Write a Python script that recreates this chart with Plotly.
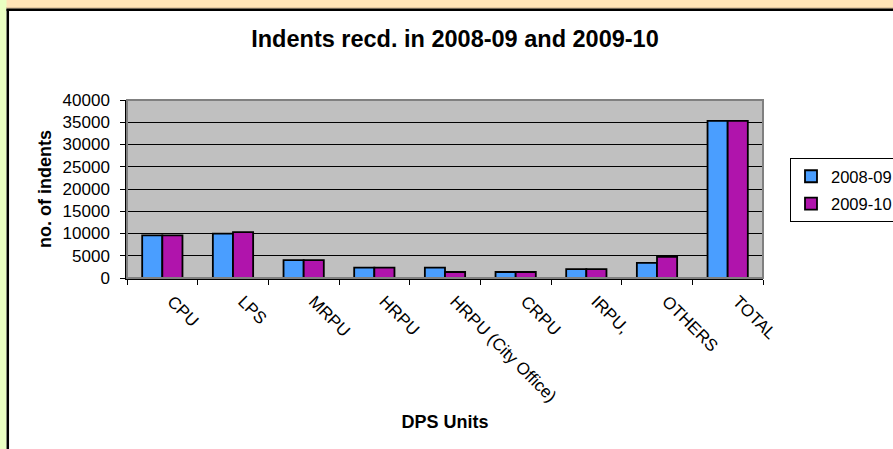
import plotly.graph_objects as go

units = ["CPU", "LPS", "MRPU", "HRPU", "HRPU (City Office)", "CRPU", "IRPU,", "OTHERS", "TOTAL"]
y2008_09 = [9600, 9950, 4000, 2350, 2350, 1350, 2000, 3400, 35300]
y2009_10 = [9600, 10300, 4000, 2350, 1350, 1350, 2000, 4750, 35300]

W, H = 893, 449
L, R, T, B = 127, 763, 100, 278   # plot area in pixels
pw, ph = R - L, B - T

def px(x):
    return (x - L) / pw

def py(y):
    return (B - y) / ph

font = "Liberation Sans, Arial, sans-serif"

fig = go.Figure()
fig.add_trace(go.Bar(x=units, y=y2008_09, name="2008-09", legendgroup="a",
                     marker=dict(color="#4A9EFF", line=dict(color="black", width=1.8))))
fig.add_trace(go.Bar(x=units, y=y2009_10, name="2009-10", legendgroup="b",
                     marker=dict(color="#B014AC", line=dict(color="black", width=1.8))))

shapes = [
    # plot border (gray top/right)
    dict(type="rect", xref="paper", yref="paper", x0=0, x1=1, y0=0, y1=1,
         line=dict(color="#808080", width=2), layer="above"),
    # top peach strip
    dict(type="rect", xref="paper", yref="paper", x0=px(0), x1=px(W), y0=py(0), y1=py(8.5),
         fillcolor="#FFE4B8", line=dict(width=0), layer="below"),
    dict(type="line", xref="paper", yref="paper", x0=px(6), x1=px(W), y0=py(8), y1=py(8),
         line=dict(color="#C8AE8C", width=1)),
    # left green strip
    dict(type="rect", xref="paper", yref="paper", x0=px(0), x1=px(6.5), y0=py(0), y1=py(H),
         fillcolor="#EAFFC2", line=dict(width=0), layer="below"),
    # black chart border
    dict(type="line", xref="paper", yref="paper", x0=px(6.5), x1=px(W), y0=py(9.8), y1=py(9.8),
         line=dict(color="black", width=2.5)),
    dict(type="line", xref="paper", yref="paper", x0=px(7.8), x1=px(7.8), y0=py(9), y1=py(H),
         line=dict(color="black", width=2.5)),
]

fig.update_layout(
    width=W, height=H,
    margin=dict(l=L, r=W - R, t=T, b=H - B, autoexpand=False),
    paper_bgcolor="white",
    plot_bgcolor="#C0C0C0",
    font=dict(family=font, size=17, color="black"),
    barmode="group", bargap=0.43, bargroupgap=0,
    title=dict(text="<b>Indents recd. in 2008-09 and 2009-10</b>", x=455 / W, xanchor="center",
               y=1 - 39 / H, yanchor="middle", font=dict(size=23.5)),
    legend=dict(x=px(790), y=py(158), xanchor="left", yanchor="top",
                bgcolor="white", bordercolor="black", borderwidth=1,
                font=dict(size=16.5), traceorder="grouped", tracegroupgap=3),
    shapes=shapes,
)
fig.update_xaxes(
    type="category", tickson="boundaries", ticks="outside", ticklen=5, tickcolor="black",
    tickangle=45, showline=True, linecolor="black", linewidth=1.5, showgrid=False,
    automargin=False, ticklabelshift=10, ticklabelstandoff=5,
    title=dict(text="<b>DPS Units</b>", font=dict(size=18), standoff=10),
)
fig.update_yaxes(
    range=[0, 40000], dtick=5000, tickformat="d", ticks="outside", ticklen=5, tickcolor="black",
    showline=True, linecolor="black", linewidth=1.5, gridcolor="black", gridwidth=1,
    zeroline=False, automargin=False, ticklabelstandoff=7,
    title=dict(text="<b>no. of indents</b>", font=dict(size=18), standoff=6),
)

fig.write_html("out.html", config={"displayModeBar": False},
               post_script="document.body.style.margin='0px';")
